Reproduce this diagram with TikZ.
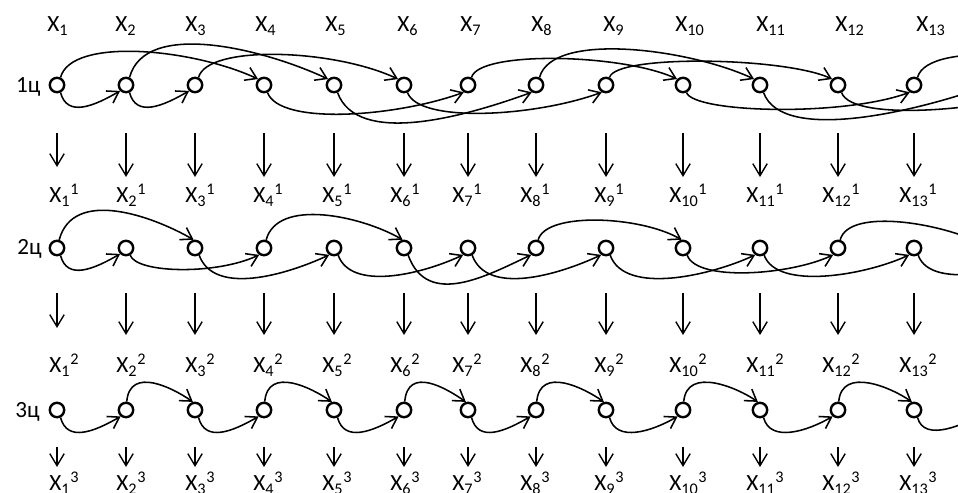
\documentclass[tikz,border=0pt]{standalone}
\usepackage{fontspec}
\setmainfont{Carlito}
\usetikzlibrary{arrows.meta}
\newcommand{\lbsize}{\fontsize{16.5}{19}\selectfont}
\tikzset{
  pt/.style={circle, draw, line width=1.7pt, minimum size=0.36cm, inner sep=0pt},
  arr/.style={-{Straight Barb[length=2.7mm,width=3.5mm]}, line width=1.1pt},
  vert/.style={-{Straight Barb[length=3mm,width=3.6mm]}, line width=1pt},
  lab/.style={anchor=base west, inner sep=0pt, font=\lbsize},
  shortdn/.style={out=-75, in=-150, out distance=0.65cm, in distance=0.75cm},
}
\begin{document}
\begin{tikzpicture}[line join=round]
    \useasboundingbox (0,0) rectangle (23.95,12.325);

    % 1. circles of the three passes, and points past the right edge
    \foreach \x [count=\i] in {1.425,3.15,4.875,6.6,8.35,10.1,11.7,13.4,15.15,17.075,19.0,20.95,22.85} {
        \node[pt] (a\i) at (\x,10.2) {};
        \node[pt] (b\i) at (\x,6.125) {};
        \node[pt] (c\i) at (\x,2.075) {};
    }
    \foreach \i/\x in {14/24.75, 15/26.65, 16/28.55} {
        \coordinate (a\i) at (\x,10.2);
        \coordinate (b\i) at (\x,6.125);
        \coordinate (c\i) at (\x,2.075);
    }

    % 2. labels
    \foreach \x [count=\i] in {1.175,2.875,4.625,6.375,8.125,9.925,11.5,13.275,15.075,16.875,18.9,20.875,22.9}
        \node[lab] (x\i) at (\x,11.525) {X\textsubscript{\i}};
    \foreach \x [count=\i] in {1.225,2.9,4.625,6.325,8.05,9.75,11.3,13.0,14.85,16.725,18.65,20.55,22.475} {
        \node[lab] (y\i) at (\x,7.25) {X\textsubscript{\i}\textsuperscript{1}};
        \node[lab] (z\i) at (\x,3.0) {X\textsubscript{\i}\textsuperscript{2}};
        \node[lab] (w\i) at (\x,0.05) {X\textsubscript{\i}\textsuperscript{3}};
    }
    \node[font=\lbsize, anchor=base east, inner sep=0pt] (r1) at (1.02,10.0) {1ц};
    \node[font=\lbsize, anchor=base east, inner sep=0pt] (r2) at (1.05,5.95) {2ц};
    \node[font=\lbsize, anchor=base east, inner sep=0pt] (r3) at (1.0,1.875) {3ц};

    % 3. arrows down to the next pass
    \foreach \i in {1,...,13} {
        \pgfmathsetmacro{\ea}{\i==1 ? 2.05 : 2.3}
        \pgfmathsetmacro{\eb}{\i==1 ? 2.0 : 2.175}
        \draw[vert] ([yshift=-1.2cm]a\i.center) -- ([yshift=-\ea cm]a\i.center);
        \draw[vert] ([yshift=-1.125cm]b\i.center) -- ([yshift=-\eb cm]b\i.center);
        \draw[vert] ([yshift=-0.925cm]c\i.center) -- ([yshift=-1.425cm]c\i.center);
    }

    % 4. pass 1: step 3
    \foreach \s/\t/\o/\n in {1/4/1.05/1.8, 2/5/1.5/1.8, 3/6/0.85/1.8, 7/10/0.7/1.5, 8/11/1.2/1.8, 9/12/0.6/1.3, 13/16/1.0/1.8}
        \draw[arr] (a\s.65) to[out=75, in=155, out distance=\o cm, in distance=\n cm] (a\t.135);
    \foreach \s/\t/\o in {4/7/0.88, 5/8/1.44, 6/9/0.82, 10/13/0.54, 11/14/1.39, 12/15/0.82}
        \draw[arr] (a\s.-65) to[out=-70, in=-160, out distance=\o cm, in distance=1.8cm] (a\t.-120);
    \foreach \s/\t in {1/2, 2/3}
        \draw[arr] (a\s.-65) to[shortdn] (a\t.-135);

    % 5. pass 2: step 2
    \foreach \s/\t/\o in {1/3/1.35, 4/6/1.09, 8/10/0.73, 12/14/0.87}
        \draw[arr] (b\s.75) to[out=75, in=150, out distance=\o cm, in distance=1.2cm] (b\t.100);
    \foreach \s/\t/\o in {2/4/0.48, 3/5/1.08, 5/7/0.94, 6/8/1.42, 7/9/1.08, 9/11/1.08, 10/12/0.71, 11/13/0.94, 13/15/0.99}
        \draw[arr] (b\s.-60) to[out=-70, in=-155, out distance=\o cm, in distance=1.2cm] (b\t.-125);
    \draw[arr] (b1.-65) to[shortdn] (b2.-135);

    % 6. pass 3: step 1
    \foreach \s/\t in {2/3, 4/5, 6/7, 8/9, 10/11, 12/13}
        \draw[arr] (c\s.85) to[out=85, in=145, out distance=0.9cm, in distance=0.6cm] (c\t.105);
    \foreach \s/\t in {1/2, 3/4, 5/6, 7/8, 9/10, 11/12, 13/14}
        \draw[arr] (c\s.-65) to[shortdn] (c\t.-130);

\end{tikzpicture}
\end{document}
